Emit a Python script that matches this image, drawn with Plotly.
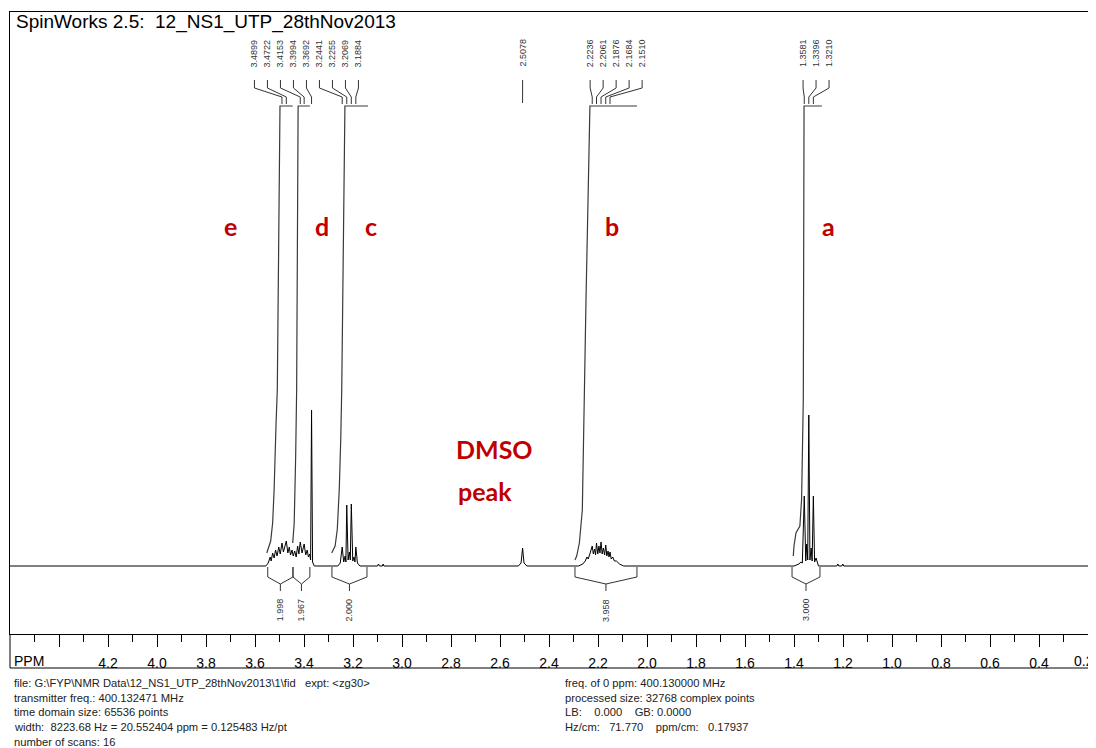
import plotly.graph_objects as go

# ---------------- data ----------------
# spectrum (ppm, intensity) vertices, region by region
base_ppm = [4.60, 0.165]
base_int = [0, 0]

ed_ppm = [3.556, 3.546, 3.538, 3.534, 3.528, 3.522, 3.516, 3.510, 3.503, 3.497, 3.4899, 3.484,
          3.4722, 3.466, 3.460, 3.455, 3.449, 3.444, 3.438, 3.432, 3.426, 3.421, 3.4153, 3.408,
          3.3994, 3.393, 3.387, 3.382, 3.377, 3.373, 3.3692, 3.365, 3.358, 3.350]
ed_int = [0, 3, 9, 5, 13, 8, 16, 10, 19, 12, 23, 14,
          25, 13, 19, 11, 16, 10, 15, 9, 20, 12, 24, 13,
          22, 11, 16, 9, 12, 6, 156, 4, 0, 0]

c_ppm = [3.262, 3.252, 3.2441, 3.238, 3.232, 3.229, 3.2255, 3.220, 3.215, 3.211, 3.2069,
         3.201, 3.196, 3.192, 3.1884, 3.182, 3.172, 3.100, 3.096, 3.092, 3.080, 3.077, 3.074]
c_int = [0, 3, 19, 4, 10, 4, 61, 6, 14, 6, 62,
         5, 9, 4, 19, 3, 0, 0, 2, 0, 0, 2, 0]

dmso_ppm = [2.525, 2.514, 2.5078, 2.502, 2.490]
dmso_int = [0, 3, 18, 3, 0]

b_ppm = [2.280, 2.262, 2.252, 2.245, 2.240, 2.232, 2.2236, 2.219, 2.214, 2.210, 2.2061, 2.201,
         2.196, 2.192, 2.1876, 2.183, 2.178, 2.173, 2.1684, 2.164, 2.159, 2.155, 2.1510, 2.146,
         2.140, 2.133, 2.125, 2.112, 2.095]
b_int = [0, 2, 5, 9, 7, 13, 20, 12, 17, 11, 23, 12,
         20, 13, 24, 12, 18, 11, 21, 10, 15, 9, 14, 7,
         9, 5, 5, 2, 0]

a_ppm = [1.400, 1.380, 1.372, 1.366, 1.3581, 1.352, 1.348, 1.344, 1.3396, 1.335, 1.330, 1.326,
         1.3210, 1.316, 1.310, 1.300, 1.225, 1.221, 1.217, 1.205, 1.201, 1.197]
a_int = [0, 2, 4, 3, 70, 5, 22, 6, 151, 6, 18, 5,
         70, 4, 8, 0, 0, 2, 0, 0, 2, 0]

# integral traces (ppm, height)
int_e_ppm = [3.552, 3.545, 3.536, 3.528, 3.522, 3.514, 3.509, 3.498, 3.446]
int_e_val = [13, 18, 25, 43, 76, 143, 176, 460, 460]
int_d_ppm = [3.446, 3.440, 3.434, 3.430, 3.424, 3.376]
int_d_val = [23, 43, 110, 176, 460, 460]
int_c_ppm = [3.287, 3.273, 3.264, 3.256, 3.250, 3.246, 3.233, 3.139]
int_c_val = [13, 20, 37, 77, 127, 176, 460, 460]
int_b_ppm = [2.294, 2.287, 2.276, 2.269, 2.264, 2.249, 2.233, 2.041]
int_b_val = [6, 10, 23, 43, 56, 266, 460, 460]
int_a_ppm = [1.403, 1.400, 1.392, 1.376, 1.369, 1.365, 1.362, 1.359, 1.286]
int_a_val = [10, 20, 33, 40, 67, 117, 167, 460, 460]

# integration regions and values
region_left = [3.548, 3.445, 3.286, 2.294, 1.408]
region_right = [3.445, 3.376, 3.143, 2.041, 1.294]
region_value = ["1.998", "1.967", "2.000", "3.958", "3.000"]

# peak picks (groups)
pick_groups = [
    [3.4899, 3.4722, 3.4153, 3.3994, 3.3692, 3.2441, 3.2255, 3.2069, 3.1884],
    [2.5078],
    [2.2236, 2.2061, 2.1876, 2.1684, 2.1510],
    [1.3581, 1.3396, 1.3210],
]
pick_centers = [3.390, 2.5078, 2.126, 1.310]

tick_major = [4.4, 4.2, 4.0, 3.8, 3.6, 3.4, 3.2, 3.0, 2.8, 2.6, 2.4, 2.2, 2.0, 1.8, 1.6, 1.4,
              1.2, 1.0, 0.8, 0.6, 0.4, 0.2]
tick_text = ["", "4.2", "4.0", "3.8", "3.6", "3.4", "3.2", "3.0", "2.8", "2.6", "2.4", "2.2",
             "2.0", "1.8", "1.6", "1.4", "1.2", "1.0", "0.8", "0.6", "0.4", ""]
edge_tick_label = "0.2"
tick_minor = [4.5, 4.3, 4.1, 3.9, 3.7, 3.5, 3.3, 3.1, 2.9, 2.7, 2.5, 2.3, 2.1, 1.9, 1.7, 1.5,
              1.3, 1.1, 0.9, 0.7, 0.5, 0.3]

title_text = "SpinWorks 2.5:  12_NS1_UTP_28thNov2013"
assign_labels = ["e", "d", "c", "b", "a"]
assign_ppm = [3.698, 3.327, 3.127, 2.143, 1.261]
footer_left = [
    "file: G:\\FYP\\NMR Data\\12_NS1_UTP_28thNov2013\\1\\fid   expt: &lt;zg30&gt;",
    "transmitter freq.: 400.132471 MHz",
    "time domain size: 65536 points",
    "width:  8223.68 Hz = 20.552404 ppm = 0.125483 Hz/pt",
    "number of scans: 16",
]
footer_right = [
    "freq. of 0 ppm: 400.130000 MHz",
    "processed size: 32768 complex points",
    "LB:    0.000    GB: 0.0000",
    "Hz/cm:   71.770    ppm/cm:   0.17937",
]

# ---------------- layout helpers (page pixels; page body has an 8px margin) ----------------
OFF = 8
W, H = 1096 - OFF, 748 - OFF
L, T, B = 10, 12, 634          # plot area edges in page pixels
PW, PH = 1096 - L, B - T
X_RIGHT = 4.2 - (1096 - 108) / 245.0


def PX(x):
    return (x - L) / PW


def PY(y):
    return (B - y) / PH


Y0 = -68           # y-range bottom (data units)
Y1 = Y0 + PH       # y-range top


def hy(ypix):      # page pixel y -> data y
    return 566 - ypix


# ---------------- build spectrum ----------------
pts = []
for xs, ys in [(base_ppm, base_int), (ed_ppm, ed_int), (c_ppm, c_int), (dmso_ppm, dmso_int),
               (b_ppm, b_int), (a_ppm, a_int)]:
    pts += list(zip(xs, ys))
pts.sort(key=lambda p: -p[0])
spec_x = [p[0] for p in pts]
spec_y = [p[1] for p in pts]

fig = go.Figure()
fig.add_trace(go.Scatter(x=spec_x, y=spec_y, mode="lines",
                         line=dict(color="black", width=1), hoverinfo="skip"))

int_col = "#3a3a3a"
for xs, ys in [(int_e_ppm, int_e_val), (int_d_ppm, int_d_val), (int_c_ppm, int_c_val),
               (int_b_ppm, int_b_val), (int_a_ppm, int_a_val)]:
    fig.add_trace(go.Scatter(x=xs, y=ys, mode="lines",
                             line=dict(color=int_col, width=1.2), hoverinfo="skip"))

# integration brackets
bx, by = [], []
for lft, rgt in zip(region_left, region_right):
    mid = (lft + rgt) / 2
    bx += [lft, lft, mid, rgt, rgt, None, mid, mid, None]
    by += [hy(567), hy(577), hy(584), hy(577), hy(567), None, hy(584), hy(591), None]
fig.add_trace(go.Scatter(x=bx, y=by, mode="lines", line=dict(color="#333", width=1),
                         hoverinfo="skip"))
for lft, rgt, val in zip(region_left, region_right, region_value):
    fig.add_annotation(x=(lft + rgt) / 2, y=hy(610), text=val, textangle=-90, showarrow=False,
                       font=dict(family="Liberation Sans, Arial", size=9, color="#333"))

# peak pick labels
spacing = 13 / 245.0
cx, cy = [], []
for grp, cen in zip(pick_groups, pick_centers):
    n = len(grp)
    for i, pk in enumerate(grp):
        lab = cen + ((n - 1) / 2 - i) * spacing
        if n == 1:
            cx += [pk, pk, None]
            cy += [hy(80), hy(103), None]
        else:
            cx += [lab, lab, pk, pk, None]
            cy += [hy(80), hy(88), hy(97), hy(104), None]
        fig.add_annotation(x=lab, y=hy(53), text=f"{pk:.4f}", textangle=-90, showarrow=False,
                           font=dict(family="Liberation Sans, Arial", size=9, color="#333"))
fig.add_trace(go.Scatter(x=cx, y=cy, mode="lines", line=dict(color="#333", width=1),
                         hoverinfo="skip"))

# red assignment labels
red = "#C00000"
for lab, pp in zip(assign_labels, assign_ppm):
    fig.add_annotation(x=pp, y=hy(226), text=f"<b>{lab}</b>", showarrow=False,
                       font=dict(family="Lato, Open Sans", size=25, color=red))
fig.add_annotation(x=2.624, y=hy(449), text="<b>DMSO</b>", showarrow=False,
                   font=dict(family="Lato, Open Sans", size=25, color=red))
fig.add_annotation(x=2.661, y=hy(491), text="<b>peak</b>", showarrow=False,
                   font=dict(family="Lato, Open Sans", size=25, color=red))

# title
fig.add_annotation(xref="paper", yref="paper", x=PX(14), y=PY(22), xanchor="left",
                   yanchor="middle", text=title_text, showarrow=False,
                   font=dict(family="Liberation Sans, Arial", size=19, color="black"))

# PPM label and the edge tick label (cut at the right edge)
axis_font = dict(family="Liberation Sans Narrow, Liberation Sans", size=14, color="black")
fig.add_annotation(xref="paper", yref="paper", x=PX(12), y=PY(661), xanchor="left",
                   yanchor="middle", text="PPM", showarrow=False, font=axis_font)
fig.add_annotation(xref="paper", yref="paper", x=1.0, y=PY(661), xanchor="right",
                   yanchor="middle", text=edge_tick_label, showarrow=False, font=axis_font)

# footer
for i, t in enumerate(footer_left):
    fig.add_annotation(xref="paper", yref="paper", x=PX(12), y=PY(683 + i * 14.7),
                       xanchor="left", yanchor="middle", text=t, showarrow=False,
                       font=dict(family="Liberation Sans, Arial", size=11.2, color="#222"))
for i, t in enumerate(footer_right):
    fig.add_annotation(xref="paper", yref="paper", x=PX(563), y=PY(683 + i * 14.7),
                       xanchor="left", yanchor="middle", text=t, showarrow=False,
                       font=dict(family="Liberation Sans, Arial", size=11.2, color="#222"))

# frame lines outside the plot area
fig.add_shape(type="line", xref="paper", yref="paper", x0=0, x1=0, y0=PY(634), y1=PY(668),
              line=dict(color="black", width=1))
fig.add_shape(type="line", xref="paper", yref="paper", x0=0, x1=1, y0=PY(668), y1=PY(668),
              line=dict(color="black", width=1))

fig.update_layout(
    width=W, height=H, margin=dict(l=L - OFF, r=0, t=T - OFF, b=(748 - OFF) - (B - OFF)),
    paper_bgcolor="white", plot_bgcolor="white", showlegend=False,
    xaxis=dict(range=[4.6, X_RIGHT], showgrid=False, zeroline=False,
               showline=True, mirror=True, linecolor="black", linewidth=1,
               tickmode="array", tickvals=tick_major, ticktext=tick_text,
               ticks="outside", ticklen=12, tickcolor="black", tickwidth=1,
               ticklabelstandoff=4, tickfont=axis_font,
               minor=dict(tickmode="array", tickvals=tick_minor, ticks="outside", ticklen=7,
                          tickcolor="black", tickwidth=1)),
    yaxis=dict(range=[Y0, Y1], showgrid=False, zeroline=False, showline=True,
               linecolor="black", linewidth=1, showticklabels=False, ticks=""),
)

fig.write_html("out.html")
